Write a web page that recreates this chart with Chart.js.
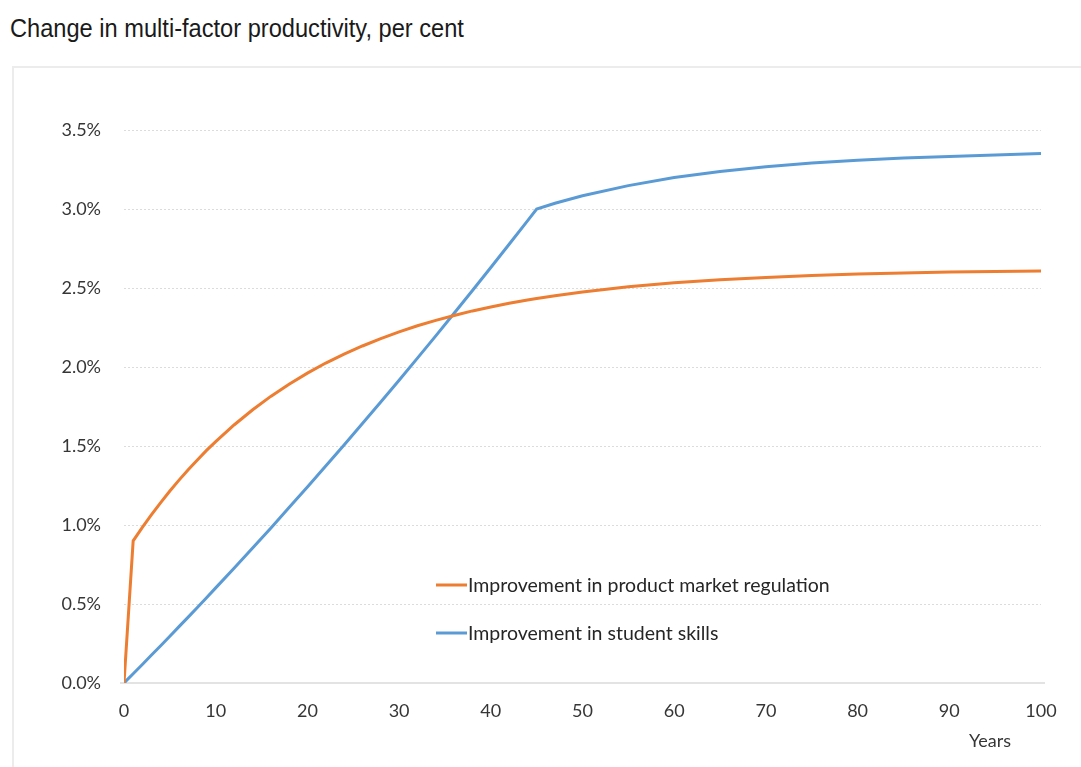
<!DOCTYPE html>
<html>
<head>
<meta charset="utf-8">
<script src="https://cdn.jsdelivr.net/npm/chart.js@4/dist/chart.umd.min.js"></script>
<style>
  html, body { margin: 0; padding: 0; background: #ffffff; overflow: hidden; }
  #title {
    position: absolute; left: 10px; top: 14px;
    font-family: "Liberation Sans", Arial, sans-serif;
    font-size: 25px; line-height: 28px; color: #1a1a1a; white-space: nowrap;
    transform: scaleX(0.945); transform-origin: left center;
  }
  #frame {
    position: absolute; left: 12px; top: 66px; width: 1200px; height: 800px;
    border-top: 2px solid #ececec; border-left: 2px solid #ececec;
  }
  #wrap { position: absolute; left: 0; top: 0; width: 1081px; height: 767px; }
</style>
</head>
<body>
<div id="title">Change in multi-factor productivity, per cent</div>
<div id="frame"></div>
<div id="wrap"><canvas id="chart" width="1081" height="767"></canvas></div>
<script>
// Years after the reform
const years = [0, 1, 2, 3, 4, 5, 6, 7, 8, 9, 10, 12, 14, 16, 18, 20, 22, 24, 26, 28, 30,
  32, 34, 36, 38, 40, 42, 44, 45, 47, 50, 55, 60, 65, 70, 75, 80, 85, 90, 95, 100];

// Change in multi-factor productivity, per cent
const productMarket = [0, 0.90, 0.985, 1.065, 1.142, 1.215, 1.284, 1.350, 1.412, 1.472, 1.528,
  1.633, 1.728, 1.814, 1.891, 1.961, 2.025, 2.082, 2.133, 2.180, 2.222,
  2.261, 2.295, 2.326, 2.355, 2.380, 2.403, 2.424, 2.434, 2.451, 2.475,
  2.508, 2.533, 2.552, 2.567, 2.579, 2.588, 2.595, 2.601, 2.605, 2.608];

const studentSkills = [0, 0.059, 0.117, 0.177, 0.236, 0.296, 0.357, 0.417, 0.478, 0.540, 0.602,
  0.726, 0.853, 0.980, 1.110, 1.240, 1.373, 1.506, 1.642, 1.778, 1.916,
  2.056, 2.197, 2.340, 2.484, 2.630, 2.777, 2.925, 3.000, 3.036, 3.084,
  3.148, 3.199, 3.238, 3.268, 3.291, 3.309, 3.323, 3.333, 3.342, 3.352];

const seriesNames = ['Improvement in product market regulation', 'Improvement in student skills'];
const xTicks = [0, 10, 20, 30, 40, 50, 60, 70, 80, 90, 100];
const yTicks = [0, 0.5, 1.0, 1.5, 2.0, 2.5, 3.0, 3.5];
const xTitle = 'Years';

const ORANGE = '#ED7D31';
const BLUE = '#5B9BD5';
const TICK_FONT = { family: 'Lato, "Open Sans", sans-serif', size: 18 };
const TEXT_COLOR = '#363636';

const toPoints = vals => years.map((x, i) => ({ x, y: vals[i] }));

// Legend drawn inside the plot, plus the x axis caption at the lower right
const overlay = {
  id: 'overlay',
  afterDatasetsDraw(chart) {
    const ctx = chart.ctx;
    ctx.save();
    ctx.font = '19.5px Lato, "Open Sans", sans-serif';
    ctx.textBaseline = 'middle';
    ctx.fillStyle = '#262626';
    const rowY = [585, 633];
    chart.data.datasets.forEach((ds, i) => {
      const y = rowY[i];
      ctx.strokeStyle = ds.borderColor;
      ctx.lineWidth = 3;
      ctx.beginPath();
      ctx.moveTo(436, y);
      ctx.lineTo(467, y);
      ctx.stroke();
      ctx.textAlign = 'left';
      ctx.fillText(ds.label, 468, y + 1);
    });
    ctx.font = '18px Lato, "Open Sans", sans-serif';
    ctx.fillStyle = TEXT_COLOR;
    ctx.textAlign = 'center';
    ctx.fillText(xTitle, 990, 741);
    ctx.restore();
  }
};

// Solid baseline at zero, drawn over the dashed gridline
const baseline = {
  id: 'baseline',
  beforeDatasetsDraw(chart) {
    const ctx = chart.ctx, ys = chart.scales.y, a = chart.chartArea;
    ctx.save();
    ctx.strokeStyle = '#e3e3e3';
    ctx.lineWidth = 2;
    const y0 = Math.round(ys.getPixelForValue(0));
    ctx.beginPath();
    ctx.moveTo(a.left - 4, y0);
    ctx.lineTo(a.right + 4, y0);
    ctx.stroke();
    ctx.restore();
  }
};

new Chart(document.getElementById('chart'), {
  type: 'line',
  data: {
    datasets: [
      { label: seriesNames[0], data: toPoints(productMarket), borderColor: ORANGE,
        backgroundColor: ORANGE, borderWidth: 3, pointRadius: 0, tension: 0, fill: false },
      { label: seriesNames[1], data: toPoints(studentSkills), borderColor: BLUE,
        backgroundColor: BLUE, borderWidth: 3, pointRadius: 0, tension: 0, fill: false }
    ]
  },
  options: {
    responsive: false,
    animation: false,
    layout: { padding: { left: 0, top: 130, right: 40, bottom: 0 } },
    plugins: { legend: { display: false }, tooltip: { enabled: false } },
    scales: {
      x: {
        type: 'linear', min: 0, max: 100,
        afterFit: s => { s.height = 84; },
        afterBuildTicks: s => { s.ticks = xTicks.map(v => ({ value: v })); },
        grid: { display: false, drawTicks: false },
        border: { display: false },
        ticks: { color: TEXT_COLOR, font: TICK_FONT, padding: 17, maxRotation: 0 }
      },
      y: {
        type: 'linear', min: 0, max: 3.5,
        afterFit: s => { s.width = 124; },
        afterBuildTicks: s => { s.ticks = yTicks.map(v => ({ value: v })); },
        border: { display: false, dash: [2, 2] },
        grid: { drawTicks: false, color: '#dcdcdc', lineWidth: 1 },
        ticks: {
          color: TEXT_COLOR, font: TICK_FONT, padding: 23,
          callback: v => v.toFixed(1) + '%'
        }
      }
    }
  },
  plugins: [baseline, overlay]
});
</script>
</body>
</html>
